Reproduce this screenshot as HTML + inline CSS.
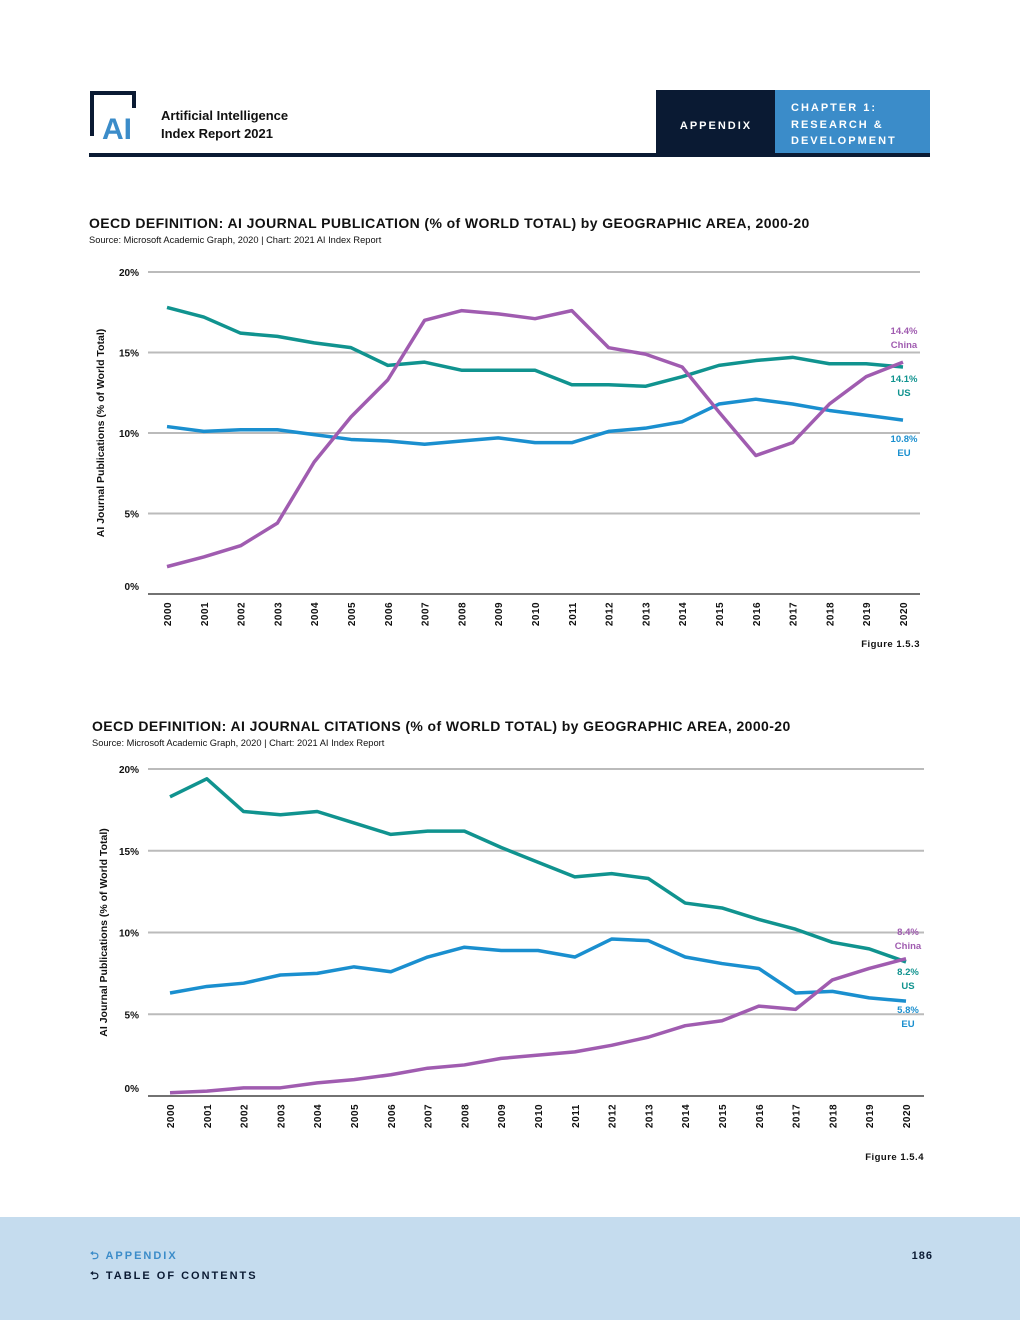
<!DOCTYPE html>
<html><head><meta charset="utf-8"><style>
body{margin:0;width:1020px;height:1320px;background:#fff;font-family:"Liberation Sans",sans-serif;overflow:hidden}
svg{display:block}
</style></head><body>
<svg id="pg" width="1020" height="1320" xmlns="http://www.w3.org/2000/svg" font-family="Liberation Sans, sans-serif">
<g>
<path d="M92 136 V93 H134 V108" fill="none" stroke="#0a1a33" stroke-width="4"/>
<text x="117" y="139" font-size="30" font-weight="bold" fill="#3b8cc9" text-anchor="middle">AI</text>
<text x="161" y="120" font-size="13" font-weight="bold" fill="#111">Artificial Intelligence</text>
<text x="161" y="138" font-size="13" font-weight="bold" fill="#111">Index Report 2021</text>
<rect x="656" y="90" width="119" height="63" fill="#0a1a33"/>
<text x="716" y="129" font-size="11" font-weight="bold" fill="#fff" text-anchor="middle" letter-spacing="2">APPENDIX</text>
<rect x="775" y="90" width="155" height="63" fill="#3b8cc9"/>
<text font-size="11" font-weight="bold" fill="#fff" letter-spacing="2"><tspan x="791" y="111">CHAPTER 1:</tspan><tspan x="791" y="128">RESEARCH &amp;</tspan><tspan x="791" y="144">DEVELOPMENT</tspan></text>
<rect x="89" y="153" width="841" height="4" fill="#0a1a33"/>
</g>
<g id="c1"></g>
<g id="c2"></g>
<rect x="0" y="1217" width="1020" height="103" fill="#c5dcee"/>
<text x="90" y="1259" font-size="11" font-weight="bold" fill="#3b8cc9" letter-spacing="2">⮌ APPENDIX</text>
<text x="90" y="1279" font-size="11" font-weight="bold" fill="#0a1a33" letter-spacing="2">⮌ TABLE OF CONTENTS</text>
<text x="933" y="1259" font-size="11" font-weight="bold" fill="#0a1a33" text-anchor="end" letter-spacing="1">186</text>
</svg>
<script>
const years=[2000,2001,2002,2003,2004,2005,2006,2007,2008,2009,2010,2011,2012,2013,2014,2015,2016,2017,2018,2019,2020];
const yTicks=[0,5,10,15,20];
const pubUS=[17.8,17.2,16.2,16.0,15.6,15.3,14.2,14.4,13.9,13.9,13.9,13.0,13.0,12.9,13.5,14.2,14.5,14.7,14.3,14.3,14.1];
const pubEU=[10.4,10.1,10.2,10.2,9.9,9.6,9.5,9.3,9.5,9.7,9.4,9.4,10.1,10.3,10.7,11.8,12.1,11.8,11.4,11.1,10.8];
const pubChina=[1.7,2.3,3.0,4.4,8.2,11.0,13.3,17.0,17.6,17.4,17.1,17.6,15.3,14.9,14.1,11.3,8.6,9.4,11.8,13.5,14.4];
const citUS=[18.3,19.4,17.4,17.2,17.4,16.7,16.0,16.2,16.2,15.2,14.3,13.4,13.6,13.3,11.8,11.5,10.8,10.2,9.4,9.0,8.2];
const citEU=[6.3,6.7,6.9,7.4,7.5,7.9,7.6,8.5,9.1,8.9,8.9,8.5,9.6,9.5,8.5,8.1,7.8,6.3,6.4,6.0,5.8];
const citChina=[0.2,0.3,0.5,0.5,0.8,1.0,1.3,1.7,1.9,2.3,2.5,2.7,3.1,3.6,4.3,4.6,5.5,5.3,7.1,7.8,8.4];
const NS='http://www.w3.org/2000/svg';
function mk(p,t,a,txt){const e=document.createElementNS(NS,t);for(const k in a)e.setAttribute(k,a[k]);if(txt!=null)e.textContent=txt;p.appendChild(e);return e;}
function chart(g,o){
 const sx=i=>o.x0+(o.x1-o.x0)*i/(years.length-1);
 const sy=v=>o.y0-(o.y0-o.y20)*v/20;
 let e=mk(g,'text',{x:o.tx,y:o.ty,'font-size':14,'font-weight':'bold',fill:'#111','letter-spacing':0.4},o.title);
 
 
 e=mk(g,'text',{x:o.tx,y:o.ty+15,'font-size':9.3,fill:'#111'},'Source: Microsoft Academic Graph, 2020 | Chart: 2021 AI Index Report');
 
 
 yTicks.forEach(t=>{
  if(t>0){e=mk(g,'line',{x1:148,x2:o.gx,y1:sy(t),y2:sy(t),stroke:'#bbb','stroke-width':2});
  
  }
  e=mk(g,'text',{x:139,y:sy(t)+4-(t==0?8:0),'font-size':10,'font-weight':'bold','text-anchor':'end',fill:'#111'},t+'%');
  
  
 });
 e=mk(g,'line',{x1:148,x2:o.gx,y1:o.y0,y2:o.y0,stroke:'#444','stroke-width':1.5});
 
 
 years.forEach((y,i)=>{
  e=mk(g,'text',{transform:`translate(${sx(i)+4},${o.y0+20}) rotate(-90)`,'font-size':10,'font-weight':'bold','text-anchor':'middle',fill:'#111','letter-spacing':0.5},y);
  
  
 });
 const my=(o.y0+o.y20)/2;
 e=mk(g,'text',{transform:`translate(${o.ax},${my}) rotate(-90)`,'font-size':10.5,'font-weight':'bold','text-anchor':'middle',fill:'#111'},'AI Journal Publications (% of World Total)');
 
 
 o.series.forEach(s=>{
  e=mk(g,'polyline',{points:s.d.map((v,i)=>sx(i)+','+sy(v)).join(' '),fill:'none',stroke:s.c,'stroke-width':3.5,'stroke-linejoin':'round'});
  
  
  e=mk(g,'text',{x:o.lx,y:s.ly,'font-size':9.5,'font-weight':'bold','text-anchor':'middle',fill:s.c},s.d[s.d.length-1].toFixed(1)+'%');
  
  
  e=mk(g,'text',{x:o.lx,y:s.ly+14,'font-size':9.5,'font-weight':'bold','text-anchor':'middle',fill:s.c},s.n);
  
  
 });
 e=mk(g,'text',{x:o.gx,y:o.fy,'font-size':9.5,'font-weight':'bold','text-anchor':'end',fill:'#111','letter-spacing':0.5},o.fig);
 
 
}
const T='#10938f',B='#1a8fcf',P='#a05cb0';
chart(document.getElementById('c1'),{x0:167,x1:903,y0:594,y20:272,gx:920,tx:89,ty:228,ax:104,lx:904,fy:647,fig:'Figure 1.5.3',
 title:'OECD DEFINITION: AI JOURNAL PUBLICATION (% of WORLD TOTAL) by GEOGRAPHIC AREA, 2000-20',
 series:[{n:'US',d:pubUS,c:T,ly:382},{n:'EU',d:pubEU,c:B,ly:442},{n:'China',d:pubChina,c:P,ly:334}]});
chart(document.getElementById('c2'),{x0:170,x1:906,y0:1096,y20:769,gx:924,tx:92,ty:731,ax:107,lx:908,fy:1160,fig:'Figure 1.5.4',
 title:'OECD DEFINITION: AI JOURNAL CITATIONS (% of WORLD TOTAL) by GEOGRAPHIC AREA, 2000-20',
 series:[{n:'US',d:citUS,c:T,ly:975},{n:'EU',d:citEU,c:B,ly:1013},{n:'China',d:citChina,c:P,ly:935}]});
</script>
</body></html>
